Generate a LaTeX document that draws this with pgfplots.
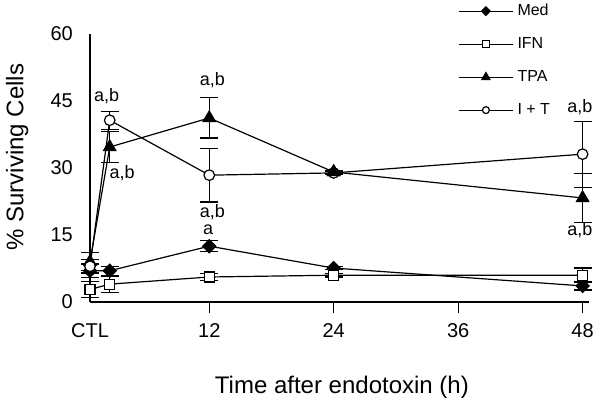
\documentclass[border=0pt]{standalone}
\usepackage{fontspec}
\setmainfont{Liberation Sans}
\usepackage{pgfplots}
\pgfplotsset{compat=1.18}
\begin{document}
\begin{tikzpicture}
\begin{axis}[
  at={(0pt,0pt)}, anchor=south west,
  scale only axis, width=498.8pt, height=268pt,
  xmin=0.5, xmax=48.6, ymin=0, ymax=60,
  axis lines*=left,
  axis line style={line width=1.2pt},
  clip=false,
  xtick={12,24,36,48},
  extra x ticks={0.5}, extra x tick labels={CTL},
  extra x tick style={tick style={draw=none}},
  ytick={0,15,30,45,60},
  tick align=outside, major tick length=11pt,
  xtick style={line width=0.8pt, black},
  ytick style={draw=none},
  /pgf/number format/assume math mode=true,
  tick label style={font=\fontsize{20}{22}\selectfont},
  xticklabel style={inner sep=0pt, yshift=-10pt},
  yticklabel style={inner sep=0pt, xshift=-6pt},
  xlabel={Time after endotoxin (h)},
  ylabel={\% Surviving Cells},
  label style={font=\fontsize{24}{26}\selectfont},
  xlabel style={at={(axis description cs:0.505,-0.317)}, anchor=center},
  ylabel style={at={(axis description cs:-0.146,0.541)}, anchor=center, rotate=0},
  legend style={draw=none, fill=none, at={(axis description cs:0.738,1.115)}, anchor=north west,
    font=\fontsize{16}{18}\selectfont, inner sep=0pt,
    nodes={inner sep=0pt, text height=12pt, text depth=3.5pt, anchor=west, font=\fontsize{16}{18}\selectfont},
    row sep=17.5pt, column sep=4pt},
  legend cell align=left,
  legend image code/.code={\draw[mark repeat=2, mark phase=2, #1, every mark/.append style={scale=0.65}] plot coordinates {(0pt,0pt) (27pt,0pt) (54pt,0pt)};},
  every axis plot/.append style={line width=1.2pt, black},
  error bars/y dir=both, error bars/y explicit,
  error bars/error bar style={line width=1.2pt},
  error bars/error mark options={rotate=90, mark size=9pt, line width=1.2pt},
]
% Med
\addplot[mark=square*, mark size=4.6pt, mark options={rotate=45, fill=black}]
  table[x=x, y=y, y error=e] {
x y e
0.5 7.0 1.5
2.4 7.0 1.0
12 12.5 1.2
24 7.6 0.4
48 3.6 0.9
};
\addlegendentry{Med}
% IFN
\addplot[mark=square*, mark size=5pt, mark options={fill=white}]
  table[x=x, y=y, y error=e] {
x y e
0.5 2.8 1.8
2.4 4.0 1.8
12 5.6 0.8
24 6.0 0.4
48 6.0 1.6
};
\addlegendentry{IFN}
% TPA
\addplot[mark=triangle*, mark size=7pt, mark options={fill=black}]
  table[x=x, y=y, y error=e] {
x y e
0.5 9.0 2.0
2.4 34.7 3.5
12 41.2 4.5
24 29.1 0.4
48 23.3 5.5
};
\addlegendentry{TPA}
% I + T
\addplot[mark=*, mark size=5.3pt, mark options={fill=white}]
  table[x=x, y=y, y error=e] {
x y e
0.5 8.0 1.5
2.4 40.7 2.0
12 28.4 6.0
24 28.9 0.4
48 33.1 7.4
};
\addlegendentry{I + T}
% TPA marker redrawn on top
\addplot[forget plot, only marks, mark=triangle*, mark size=7pt, mark options={fill=black}]
  table[x=x, y=y] {
x y
24 29.1
};
\node[font=\fontsize{18}{20}\selectfont] at (axis cs:2.1,46.1) {a,b};
\node[font=\fontsize{18}{20}\selectfont] at (axis cs:3.6,28.9) {a,b};
\node[font=\fontsize{18}{20}\selectfont] at (axis cs:12.3,49.7) {a,b};
\node[font=\fontsize{18}{20}\selectfont] at (axis cs:12.3,20.2) {a,b};
\node[font=\fontsize{18}{20}\selectfont] at (axis cs:11.9,16.1) {a};
\node[font=\fontsize{18}{20}\selectfont] at (axis cs:47.75,43.7) {a,b};
\node[font=\fontsize{18}{20}\selectfont] at (axis cs:47.75,16.1) {a,b};
\end{axis}
\path (-90pt,-106pt) rectangle (514pt,302pt);
\end{tikzpicture}
\end{document}
